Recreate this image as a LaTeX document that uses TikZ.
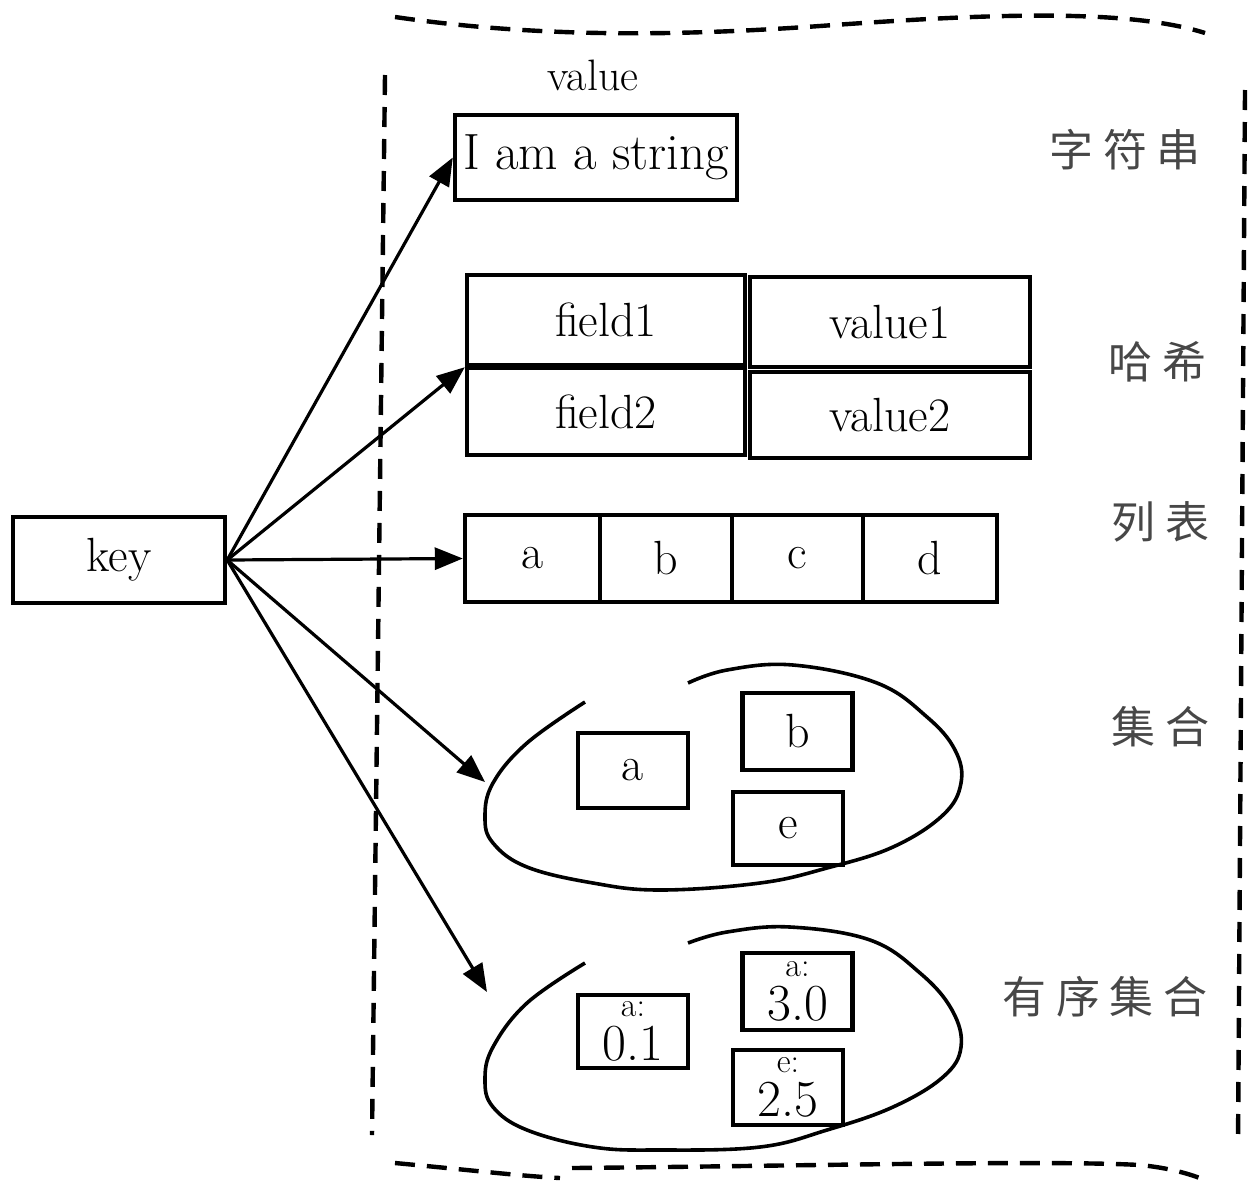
\documentclass[tikz,border=0pt]{standalone}
\usepackage{fontspec}
\newfontfamily\cjkfont{Noto Sans CJK SC}
\usetikzlibrary{arrows.meta}
\begin{document}
\begin{tikzpicture}[x=0.5pt,y=-0.5pt,
  box/.style={draw, line width=2.2pt, inner sep=0pt, font=\fontsize{24}{28}\selectfont},
  setbox/.style={box, minimum width=55pt, minimum height=37.5pt},
  zbox/.style={box, minimum width=55pt, minimum height=37.5pt, align=center, font=\fontsize{26}{22}\selectfont},
  small/.style={},
  arr/.style={line width=1.6pt, -{Triangle[length=14pt,width=11pt]}},
  frame/.style={line width=2.2pt, dash pattern=on 10pt off 6pt},
  blob/.style={line width=1.8pt},
  cjklabel/.style={font=\cjkfont\fontsize{22}{26}\selectfont, text=black!72},
  toplabel/.style={font=\fontsize{22}{26}\selectfont}]
\useasboundingbox (0,0) rectangle (1257,1189);

% outer dashed frame
\draw[frame] (395,17) .. controls (540,38) and (680,36) .. (820,26) .. controls (960,16) and (1120,6) .. (1205,33);
\draw[frame] (395,1163) .. controls (470,1170) and (520,1176) .. (560,1178);
\draw[frame] (572,1168) .. controls (800,1166) and (1050,1160) .. (1140,1165) .. controls (1170,1168) and (1190,1174) .. (1205,1180);
\draw[frame] (385,75) -- (372,1135);
\draw[frame] (1245,90) -- (1238,1145);

% key
\node[box, minimum width=106pt, minimum height=43pt] (key) at (119,560) {key};

% string
\node[toplabel] (vlabel) at (593,75) {value};
\node[box, minimum width=141pt, minimum height=42.5pt, font=\fontsize{25.5}{28}\selectfont] (str) at (596,157.5) {I am a string};

% hash
\node[box, minimum width=139pt, minimum height=45pt] (f1) at (606,320) {field1};
\node[box, minimum width=140pt, minimum height=45pt] (v1) at (890,322) {value1};
\node[box, minimum width=139pt, minimum height=43.5pt] (f2) at (606,411.5) {field2};
\node[box, minimum width=140pt, minimum height=43pt] (v2) at (890,415) {value2};

% list
\node[box, minimum width=67.5pt, minimum height=43.5pt] (la) at (532.5,558.5) {a};
\node[box, minimum width=66pt, minimum height=43.5pt] (lb) at (666,558.5) {b};
\node[box, minimum width=65.5pt, minimum height=43.5pt] (lc) at (797.5,558.5) {c};
\node[box, minimum width=67pt, minimum height=43.5pt] (ld) at (930,558.5) {d};

% set
\draw[blob] plot[smooth, tension=0.65] coordinates {(585,702) (527,743) (493,783) (485,817) (493,843) (527,867) (593,883) (660,890) (760,883) (827,868) (893,847) (943,815) (961,783) (955,750) (927,717) (877,683) (793,665) (727,670) (688,683)};
\node[setbox] (sa) at (633,770.5) {a};
\node[setbox, minimum height=38.5pt] (sb) at (797.5,731.5) {b};
\node[setbox, minimum height=36.5pt] (se) at (788,828.5) {e};
\coordinate (setin) at (485,782);

% sorted set
\draw[blob] plot[smooth, tension=0.65] coordinates {(585,963) (527,1003) (493,1047) (485,1080) (493,1107) (527,1130) (593,1147) (660,1150) (760,1147) (827,1130) (893,1107) (943,1077) (961,1047) (952,1010) (920,973) (870,940) (790,927) (727,932) (688,943)};
\node[zbox, minimum height=36.5pt] (za) at (633,1031.5) {{\fontsize{17}{17}\selectfont a:}\\0.1};
\node[zbox, minimum height=38.5pt] (zb) at (797.5,991.5) {{\fontsize{17}{17}\selectfont a:}\\3.0};
\node[zbox] (ze) at (788,1087.5) {{\fontsize{17}{17}\selectfont e:}\\2.5};
\coordinate (zsetin) at (487,992);

% arrows
\draw[arr] (key.east) -- (str.west);
\draw[arr] (key.east) -- (f1.south west);
\draw[arr] (key.east) -- (la.west);
\draw[arr] (key.east) -- (setin);
\draw[arr] (key.east) -- (zsetin);

% type labels
\node[cjklabel] (t1) at (1125,150) {字\hspace{5pt}符\hspace{5pt}串};
\node[cjklabel] (t2) at (1157,362) {哈\hspace{5pt}希};
\node[cjklabel] (t3) at (1160,522) {列\hspace{5pt}表};
\node[cjklabel] (t4) at (1160,727) {集\hspace{5pt}合};
\node[cjklabel] (t5) at (1105,997) {有\hspace{5pt}序\hspace{5pt}集\hspace{5pt}合};
\end{tikzpicture}
\end{document}
